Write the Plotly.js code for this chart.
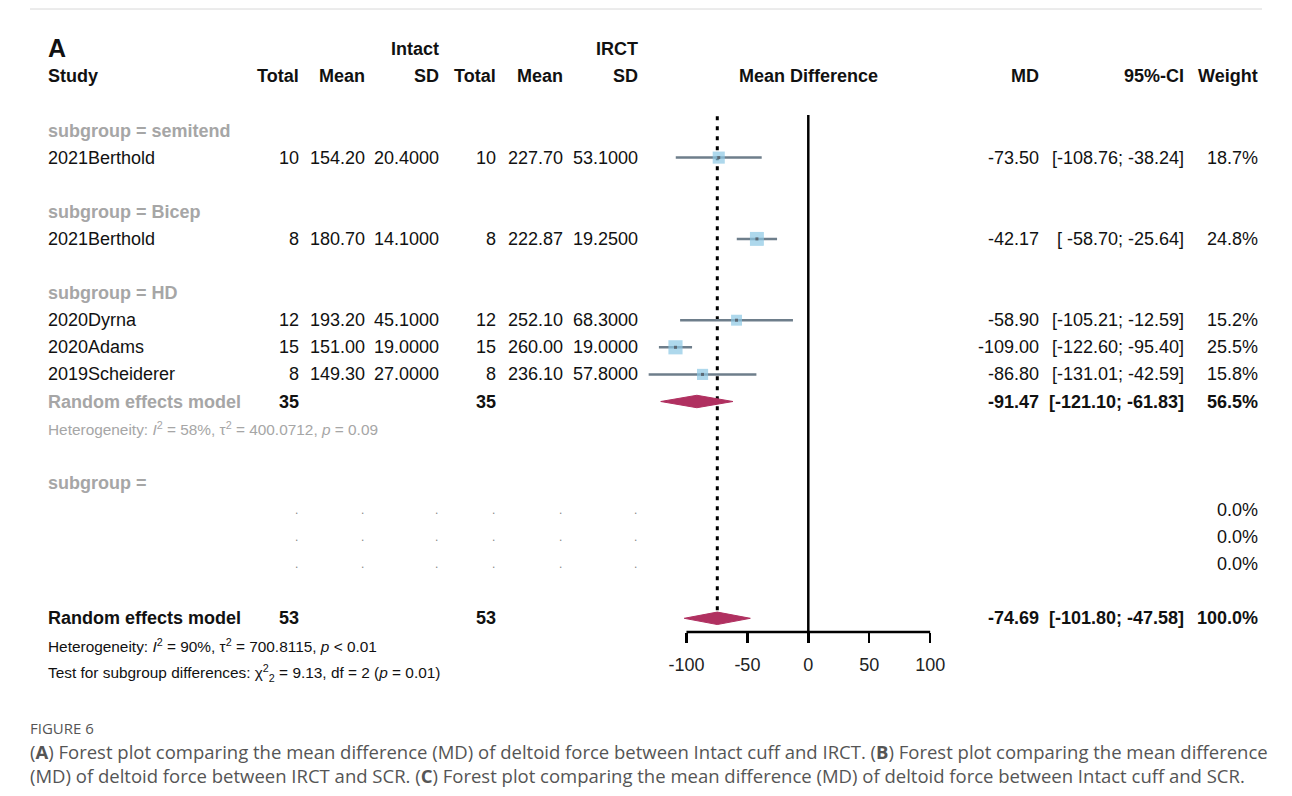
<!DOCTYPE html>
<html>
<head>
<meta charset="utf-8">
<script src="https://cdn.plot.ly/plotly-3.0.1.min.js"></script>
<style>
  html, body { margin: 0; padding: 0; background: #fff; }
  #chart { width: 1292px; height: 796px; }
</style>
</head>
<body>
<div id="chart"></div>
<script>
// ---- study-level data (deltoid force, Intact cuff vs IRCT) ----
const studies    = ['2021Berthold', '2021Berthold', '2020Dyrna', '2020Adams', '2019Scheiderer'];
const studyRows  = [1, 4, 7, 8, 9];
const intactN    = [10, 8, 12, 15, 8];
const intactMean = [154.20, 180.70, 193.20, 151.00, 149.30];
const intactSD   = [20.4, 14.1, 45.1, 19.0, 27.0];
const irctN      = [10, 8, 12, 15, 8];
const irctMean   = [227.70, 222.87, 252.10, 260.00, 236.10];
const irctSD     = [53.1, 19.25, 68.3, 19.0, 57.8];
const md         = [-73.50, -42.17, -58.90, -109.00, -86.80];
const ciLow      = [-108.76, -58.70, -105.21, -122.60, -131.01];
const ciHigh     = [-38.24, -25.64, -12.59, -95.40, -42.59];
const weight     = [18.7, 24.8, 15.2, 25.5, 15.8];

// ---- subgroup headings ----
const subgroupLabels = ['subgroup = semitend', 'subgroup = Bicep', 'subgroup = HD', 'subgroup = '];
const subgroupRows   = [0, 3, 6, 13];

// ---- pooled estimates (HD subgroup, overall) ----
const pooledLabels = ['Random effects model', 'Random effects model'];
const pooledRows   = [10, 18];
const pooledN1     = [35, 53];
const pooledN2     = [35, 53];
const pooledMD     = [-91.47, -74.69];
const pooledLow    = [-121.10, -101.80];
const pooledHigh   = [-61.83, -47.58];
const pooledWeight = [56.5, 100.0];
const pooledIsSub  = [true, false];

// ---- empty subgroup rows ----
const emptyRows   = [14, 15, 16];
const emptyWeight = [0.0, 0.0, 0.0];

// ---- axis ticks ----
const tickVals = [-100, -50, 0, 50, 100];

// ---- heterogeneity / test text ----
const hetSub     = 'Heterogeneity: <i>I</i><sup>2</sup> = 58%, τ<sup>2</sup> = 400.0712, <i>p</i> = 0.09';
const hetAll     = 'Heterogeneity: <i>I</i><sup>2</sup> = 90%, τ<sup>2</sup> = 700.8115, <i>p</i> &lt; 0.01';
const testSub    = 'Test for subgroup differences: χ<sup>2</sup><sub>2</sub> = 9.13, df = 2 (<i>p</i> = 0.01)';
const figLabel   = 'FIGURE 6';
const caption1   = '(<b>A</b>) Forest plot comparing the mean difference (MD) of deltoid force between Intact cuff and IRCT. (<b>B</b>) Forest plot comparing the mean difference';
const caption2   = '(MD) of deltoid force between IRCT and SCR. (<b>C</b>) Forest plot comparing the mean difference (MD) of deltoid force between Intact cuff and SCR.';

// ---- page geometry ----
const W = 1292, H = 796;
const X0 = 808.3, XS = 1.2185;        // pixel of MD = 0, pixels per MD unit
const ROW0 = 130.5, RS = 27.1;        // pixel of row 0, pixels per row
const axisRow = (632 - ROW0) / RS;    // row position of the MD axis line
const topRow  = (115 - ROW0) / RS;

const FONT = 'Liberation Sans, Arial, sans-serif';
const INK = '#111';
const GREY = '#a6a6a6';

// column right edges (pixels)
const COL = { study: 46, n1: 301, m1: 366.5, sd1: 441, n2: 498, m2: 565, sd2: 639.5, md: 1041, ci: 1186, w: 1260 };

const ann = [];
function txt(px, row, text, o) {
  o = o || {};
  ann.push({
    xref: 'paper', x: px / W, yref: 'y', y: row,
    xanchor: o.anchor || 'right', yanchor: 'middle',
    text: text, showarrow: false,
    font: { family: FONT, size: o.size || 18, color: o.color || INK }
  });
}
const b = s => '<b>' + s + '</b>';
const fmtCI = (lo, hi) => {
  let l = lo.toFixed(2);
  if (l.length < 7) l = ' ' + l;
  return '[' + l + '; ' + hi.toFixed(2) + ']';
};

// headers
txt(46, -3.05, b('A'), { anchor: 'left', size: 25 });
txt(COL.sd1, -3, b('Intact'));
txt(COL.sd2, -3, b('IRCT'));
txt(COL.study, -2, b('Study'), { anchor: 'left' });
txt(COL.n1, -2, b('Total'));
txt(COL.m1, -2, b('Mean'));
txt(COL.sd1, -2, b('SD'));
txt(COL.n2, -2, b('Total'));
txt(COL.m2, -2, b('Mean'));
txt(COL.sd2, -2, b('SD'));
ann.push({ xref: 'x', x: 0, yref: 'y', y: -2, xanchor: 'center', yanchor: 'middle',
  text: b('Mean Difference'), showarrow: false, font: { family: FONT, size: 18, color: INK } });
txt(COL.md, -2, b('MD'));
txt(COL.ci, -2, b('95%-CI'));
txt(COL.w, -2, b('Weight'));

// subgroup headings
subgroupLabels.forEach((s, i) => txt(COL.study, subgroupRows[i], b(s), { anchor: 'left', color: GREY }));

// study rows
studies.forEach((s, i) => {
  const r = studyRows[i];
  txt(COL.study, r, s, { anchor: 'left' });
  txt(COL.n1, r, String(intactN[i]));
  txt(COL.m1, r, intactMean[i].toFixed(2));
  txt(COL.sd1, r, intactSD[i].toFixed(4));
  txt(COL.n2, r, String(irctN[i]));
  txt(COL.m2, r, irctMean[i].toFixed(2));
  txt(COL.sd2, r, irctSD[i].toFixed(4));
  txt(COL.md, r, md[i].toFixed(2));
  txt(COL.ci, r, fmtCI(ciLow[i], ciHigh[i]));
  txt(COL.w, r, weight[i].toFixed(1) + '%');
});

// pooled rows
pooledLabels.forEach((s, i) => {
  const r = pooledRows[i];
  txt(COL.study, r, b(s), { anchor: 'left', color: pooledIsSub[i] ? GREY : INK });
  txt(COL.n1, r, b(String(pooledN1[i])));
  txt(COL.n2, r, b(String(pooledN2[i])));
  txt(COL.md, r, b(pooledMD[i].toFixed(2)));
  txt(COL.ci, r, b(fmtCI(pooledLow[i], pooledHigh[i])));
  txt(COL.w, r, b(pooledWeight[i].toFixed(1) + '%'));
});
txt(COL.study, 11, hetSub, { anchor: 'left', size: 15.4, color: GREY });
txt(COL.study, 19, hetAll, { anchor: 'left', size: 15.4 });
txt(COL.study, 20, testSub, { anchor: 'left', size: 15.4 });

// empty subgroup rows
emptyRows.forEach((r, i) => {
  [COL.n1, COL.m1, COL.sd1, COL.n2, COL.m2, COL.sd2].forEach(c => txt(c - 1, r, '.', { size: 12, color: '#888' }));
  txt(COL.w, r, emptyWeight[i].toFixed(1) + '%');
});

// caption
function cap(px, py, text, size, color) {
  ann.push({ xref: 'paper', x: px / W, yref: 'paper', y: 1 - py / H, xanchor: 'left', yanchor: 'middle',
    text: text, showarrow: false, font: { family: 'Open Sans, sans-serif', size: size, color: color } });
}
cap(28, 728, figLabel, 15, '#555');
cap(28, 751, caption1, 18.5, '#555');
cap(28, 775, caption2, 18.5, '#555');

// ---- traces ----
const traces = [];
// study squares with confidence intervals
traces.push({
  type: 'scatter', mode: 'markers', x: md, y: studyRows,
  marker: { symbol: 'square', size: weight.map(w => 2.8 * Math.sqrt(w)), color: '#8cc8e4', line: { width: 0 } },
  error_x: { type: 'data', symmetric: false,
    array: md.map((m, i) => ciHigh[i] - m), arrayminus: md.map((m, i) => m - ciLow[i]),
    color: '#6e7e8b', thickness: 2.5, width: 0 },
  hoverinfo: 'skip', cliponaxis: false
});
// centre marks
traces.push({
  type: 'scatter', mode: 'markers', x: md, y: studyRows,
  marker: { symbol: 'square', size: 3, color: '#5b6873' }, hoverinfo: 'skip', cliponaxis: false
});
// pooled diamonds
const dh = 0.23;
pooledMD.forEach((m, i) => {
  const r = pooledRows[i];
  traces.push({
    type: 'scatter', mode: 'lines', fill: 'toself', fillcolor: '#b03060',
    x: [pooledLow[i], m, pooledHigh[i], m, pooledLow[i]],
    y: [r, r - dh, r, r + dh, r],
    line: { width: 1, color: '#b03060' }, hoverinfo: 'skip'
  });
});

// ---- reference lines and axis line ----
const overall = pooledMD[pooledMD.length - 1];
const shapes = [
  { type: 'line', xref: 'x', yref: 'y', x0: 0, x1: 0, y0: topRow, y1: axisRow, line: { color: '#000', width: 2.5 }, layer: 'below' },
  { type: 'line', xref: 'x', yref: 'y', x0: overall, x1: overall, y0: topRow + 0.05, y1: axisRow - 0.5,
    line: { color: '#000', width: 3, dash: '4px,6px' }, layer: 'below' },
  { type: 'line', xref: 'x', yref: 'y', x0: tickVals[0], x1: tickVals[tickVals.length - 1], y0: axisRow, y1: axisRow,
    line: { color: '#000', width: 2.5 } },
  { type: 'line', xref: 'paper', yref: 'paper', x0: 30 / W, x1: 1262 / W, y0: 1 - 9 / H, y1: 1 - 9 / H,
    line: { color: '#d8d8d8', width: 1 } }
];

const layout = {
  width: W, height: H,
  margin: { l: 0, r: 0, t: 0, b: 0 },
  paper_bgcolor: '#fff', plot_bgcolor: '#fff',
  showlegend: false,
  xaxis: {
    range: [(0 - X0) / XS, (W - X0) / XS], domain: [0, 1],
    anchor: 'free', position: 1 - 632 / H,
    tickvals: tickVals, ticktext: tickVals.map(String),
    ticks: 'outside', ticklen: 10, tickwidth: 2.5, tickcolor: '#000',
    ticklabelstandoff: 6,
    tickfont: { family: FONT, size: 18, color: '#222' },
    showline: false, showgrid: false, zeroline: false, fixedrange: true
  },
  yaxis: {
    range: [(H - ROW0) / RS, (0 - ROW0) / RS], domain: [0, 1],
    visible: false, showgrid: false, zeroline: false, fixedrange: true
  },
  annotations: ann,
  shapes: shapes
};

Plotly.newPlot('chart', traces, layout, { staticPlot: true, displayModeBar: false });
</script>
</body>
</html>
